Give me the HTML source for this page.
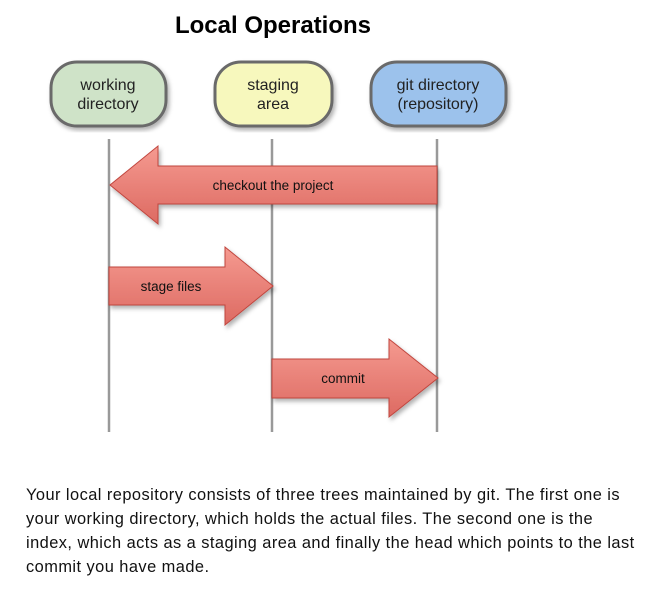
<!DOCTYPE html>
<html><head><style>
body{margin:0;background:#fff;width:652px;height:589px;overflow:hidden;position:relative;font-family:"Liberation Sans",sans-serif}
.p{position:absolute;left:26px;top:483px;font-size:16.4px;letter-spacing:0.45px;line-height:24px;color:#111;white-space:nowrap}
</style></head><body>
<svg width="652" height="460" style="position:absolute;left:0;top:0">
<defs>
<linearGradient id="g" x1="0" y1="0" x2="0" y2="1"><stop offset="0" stop-color="#f59a90"/><stop offset="1" stop-color="#dd6a62"/></linearGradient>
<filter id="s"><feDropShadow dx="2" dy="3" stdDeviation="2" flood-opacity="0.3"/></filter>
</defs>
<text x="273" y="33" text-anchor="middle" font-size="24" font-weight="bold" fill="#000">Local Operations</text>
<g stroke="#999" stroke-width="2.5">
<line x1="109" y1="139" x2="109" y2="432"/><line x1="272" y1="139" x2="272" y2="432"/><line x1="437" y1="139" x2="437" y2="432"/>
</g>
<g stroke="#6b6b6b" stroke-width="3" filter="url(#s)">
<rect x="51" y="62" width="115" height="64" rx="26" fill="#cfe3c8"/>
<rect x="215" y="62" width="117" height="64" rx="26" fill="#f7f8bd"/>
<rect x="371" y="62" width="135" height="64" rx="26" fill="#9cc2ec"/>
</g>
<g font-size="16" fill="#222" text-anchor="middle">
<text x="108" y="90">working</text><text x="108" y="109">directory</text>
<text x="273" y="90">staging</text><text x="273" y="109">area</text>
<text x="438" y="90">git directory</text><text x="438" y="109">(repository)</text>
</g>
<g fill="url(#g)" stroke="#c0453e" stroke-width="1" filter="url(#s)">
<polygon points="437,166 158,166 158,146 110,185 158,224 158,204 437,204"/>
<polygon points="109,267 225,267 225,247 273,286 225,325 225,305 109,305"/>
<polygon points="272,359 389,359 389,339 438,378 389,417 389,398 272,398"/>
</g>
<g font-size="13.5" fill="#111" text-anchor="middle">
<text x="273" y="190">checkout the project</text>
<text x="171" y="291">stage files</text>
<text x="343" y="383">commit</text>
</g>
</svg>
<div class="p">Your local repository consists of three trees maintained by git. The first one is<br>your working directory, which holds the actual files. The second one is the<br>index, which acts as a staging area and finally the head which points to the last<br>commit you have made.</div>
</body></html>
